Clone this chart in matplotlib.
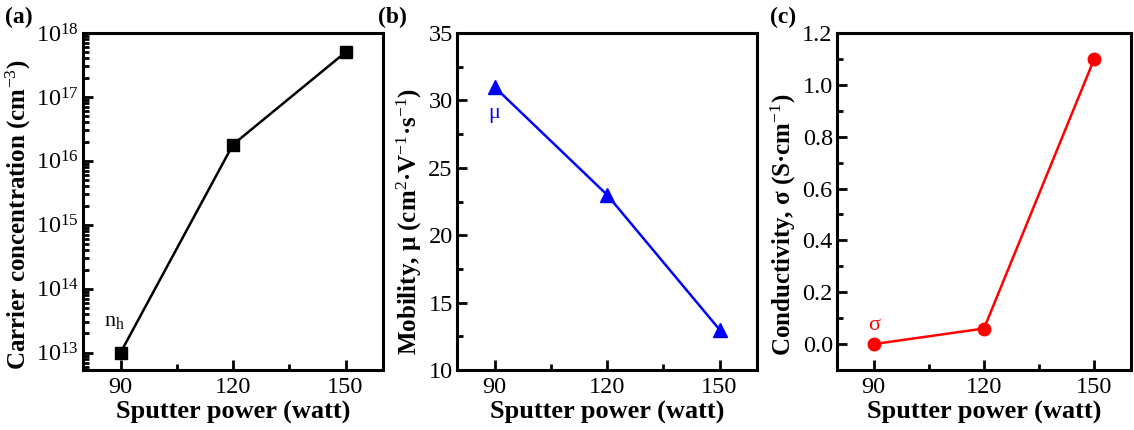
import matplotlib
matplotlib.use("Agg")
import matplotlib.pyplot as plt
from matplotlib.ticker import MultipleLocator, LogLocator, NullFormatter

plt.rcParams['font.family'] = ['Liberation Serif', 'DejaVu Serif']
plt.rcParams['mathtext.fontset'] = 'custom'
plt.rcParams['mathtext.rm'] = 'Liberation Serif'
plt.rcParams['mathtext.it'] = 'Liberation Serif:italic'
plt.rcParams['mathtext.bf'] = 'Liberation Serif:bold'

power = [90, 120, 150]
carrier = [1e13, 1.8e16, 5e17]
mobility = [31, 23, 13]
conductivity = [0.0, 0.06, 1.1]
xticks = [90, 120, 150]

fig = plt.figure(figsize=(11.34, 4.3), dpi=100)
W, H = 1134, 430
def pos(l, r, t=33, b=370):
    return [l / W, 1 - b / H, (r - l) / W, (b - t) / H]

axa = fig.add_axes(pos(83, 383))
axb = fig.add_axes(pos(457, 757))
axc = fig.add_axes(pos(837, 1131))

tick_fs = 17.5
lab_fs = 19
ylab_fs = 18

for ax in (axa, axb, axc):
    ax.set_xlim(80, 160)
    ax.set_xticks(xticks)
    ax.xaxis.set_minor_locator(MultipleLocator(15))
    for s in ax.spines.values():
        s.set_linewidth(2.2)
    ax.tick_params(which='both', direction='in', top=False, right=False, width=2, labelsize=tick_fs)
    ax.tick_params(which='major', length=7)
    ax.tick_params(which='minor', length=4)
    ax.tick_params(axis='x', which='major', pad=5)
    ax.tick_params(axis='y', which='major', pad=3)
    ax.set_xlabel('Sputter power (watt)', fontsize=lab_fs, fontweight='bold', labelpad=2)

# (a)
axa.plot(power, carrier, color='black', marker='s', markersize=9, linewidth=1.8)
axa.set_yscale('log')
axa.set_ylim(10**12.73, 1e18)
axa.yaxis.set_major_locator(LogLocator(base=10, numticks=10))
axa.yaxis.set_minor_locator(LogLocator(base=10, subs=range(2, 10), numticks=20))
axa.yaxis.set_minor_formatter(NullFormatter())
axa.set_ylabel('Carrier concentration (cm$^{-3}$)', fontsize=ylab_fs, fontweight='bold', labelpad=2)
axa.yaxis.label.set_y(0.46)
axa.text(88.5, 2.2e13, 'n$_{\\mathrm{h}}$', fontsize=16, ha='center', va='bottom')

# (b)
axb.plot(power, mobility, color='#0000ff', marker='^', markersize=10, linewidth=1.8)
axb.set_ylim(10, 35)
axb.yaxis.set_major_locator(MultipleLocator(5))
axb.yaxis.set_minor_locator(MultipleLocator(2.5))
axb.set_ylabel('Mobility, μ (cm$^{2}$·V$^{-1}$·s$^{-1}$)', fontsize=ylab_fs, fontweight='bold', labelpad=3)
axb.yaxis.label.set_y(0.44)
axb.text(90, 29.0, 'μ', color='#0000ff', fontsize=16, ha='center', va='center')

# (c)
axc.plot(power, conductivity, color='#ff0000', marker='o', markersize=9, linewidth=1.8)
axc.set_ylim(-0.1, 1.2)
axc.yaxis.set_major_locator(MultipleLocator(0.2))
axc.yaxis.set_minor_locator(MultipleLocator(0.1))
axc.yaxis.set_major_formatter(matplotlib.ticker.FormatStrFormatter('%.1f'))
axc.set_ylabel('Conductivity, σ (S·cm$^{-1}$)', fontsize=ylab_fs, fontweight='bold', labelpad=3)
axc.yaxis.label.set_y(0.43)
axc.text(90, 0.035, 'σ', color='#ff0000', fontsize=16, ha='center', va='bottom')

for x, lab in [(5, '(a)'), (378, '(b)'), (770, '(c)')]:
    fig.text(x / W, 1 - 17 / H, lab, fontsize=17, fontweight='bold', ha='left', va='center')

fig.savefig('out.png', dpi=100)
